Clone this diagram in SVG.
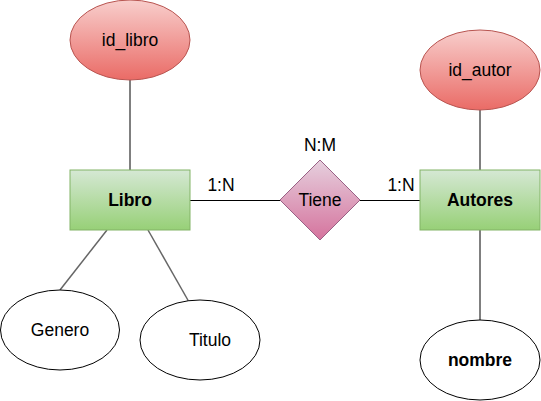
<svg xmlns="http://www.w3.org/2000/svg" width="541" height="401" viewBox="0 0 541 401">
<defs>
<linearGradient id="gRed" x1="0" y1="0" x2="0" y2="1"><stop offset="0" stop-color="#f8cecc"/><stop offset="1" stop-color="#ea6b66"/></linearGradient>
<linearGradient id="gGreen" x1="0" y1="0" x2="0" y2="1"><stop offset="0" stop-color="#d5e8d4"/><stop offset="1" stop-color="#97d077"/></linearGradient>
<linearGradient id="gPink" x1="0" y1="0" x2="0" y2="1"><stop offset="0" stop-color="#e6d0de"/><stop offset="1" stop-color="#d5739d"/></linearGradient>
</defs>
<style>
text{font-family:"Liberation Sans",Arial,sans-serif;font-size:17.5px;fill:#000;text-anchor:middle}
.b{font-weight:bold}
.key{fill:url(#gRed);stroke:#b85450;stroke-width:1}
.ent{fill:url(#gGreen);stroke:#82b366;stroke-width:1}
.rel{fill:url(#gPink);stroke:#996185;stroke-width:1}
.attr{fill:#fff;stroke:#000;stroke-width:1}
.ln{stroke:#000;stroke-width:1;fill:none}
.lg{stroke:#666;stroke-width:1.5;fill:none}
</style>
<g id="connectors">
<line class="ln" x1="130" y1="80" x2="130" y2="170"/>
<line class="ln" x1="480" y1="110" x2="480" y2="170"/>
<line class="ln" x1="480" y1="230" x2="480" y2="320"/>
<line class="ln" x1="190" y1="200.5" x2="280" y2="200.5"/>
<line class="ln" x1="360" y1="200.5" x2="420" y2="200.5"/>
<line class="lg" x1="107" y1="230" x2="60" y2="290"/>
<line class="lg" x1="148" y1="230" x2="189" y2="302"/>
<text x="221" y="191">1:N</text>
<text x="401" y="191">1:N</text>
</g>
<g id="id_libro"><ellipse class="key" cx="130" cy="40" rx="60" ry="40"/><text x="130" y="46">id_libro</text></g>
<g id="libro"><rect class="ent" x="70" y="170" width="120" height="60"/><text class="b" x="130" y="206">Libro</text></g>
<g id="tiene"><polygon class="rel" points="320,160 360,200 320,240 280,200"/><text x="320" y="206">Tiene</text><text x="320" y="151">N:M</text></g>
<g id="id_autor"><ellipse class="key" cx="480" cy="70" rx="60" ry="40"/><text x="480" y="76">id_autor</text></g>
<g id="autores"><rect class="ent" x="420" y="170" width="120" height="60"/><text class="b" x="480" y="206">Autores</text></g>
<g id="genero"><ellipse class="attr" cx="60" cy="330" rx="59.5" ry="40"/><text x="60" y="336">Genero</text></g>
<g id="titulo"><ellipse class="attr" cx="200" cy="340" rx="60" ry="40"/><text x="210" y="346">Titulo</text></g>
<g id="nombre"><ellipse class="attr" cx="480" cy="360" rx="60" ry="40"/><text class="b" x="480" y="366">nombre</text></g>
</svg>
